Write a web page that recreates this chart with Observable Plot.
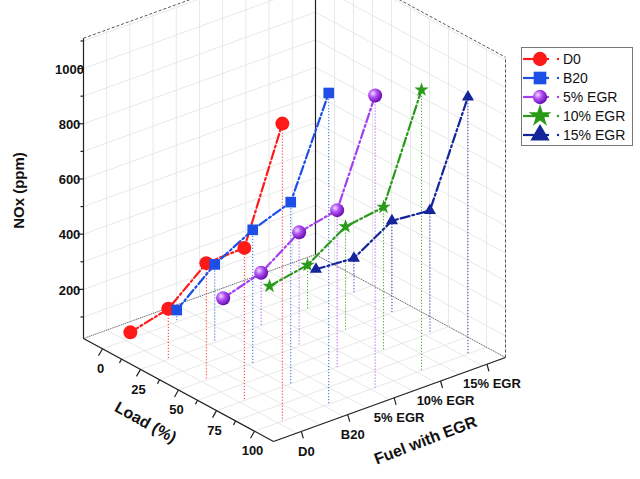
<!DOCTYPE html>
<html><head><meta charset="utf-8">
<script src="https://cdn.jsdelivr.net/npm/d3@7"></script>
<script src="https://cdn.jsdelivr.net/npm/@observablehq/plot@0.6"></script>
<style>body{margin:0;background:#fff;font-family:"Liberation Sans",Arial,sans-serif}#wrap{position:relative;width:640px;height:479px}#legend{position:absolute;left:521px;top:47px}</style>
</head><body><div id="wrap"><div id="chart"></div><svg id="legend" width="113" height="100"></svg></div>
<script>
const loads = [0, 25, 50, 75, 100];
const fuels = ["D0", "B20", "5% EGR", "10% EGR", "15% EGR"];
const D0 = [45, 205, 445, 575, 1100];
const B20 = [65, 305, 505, 680, 1150];
const EGR5 = [47, 214, 435, 590, 1080];
const EGR10 = [30, 181, 395, 540, 1040];
const EGR15 = [30, 145, 355, 467, 953];
const noxTicks = [200, 400, 600, 800, 1000];
const colors = ["#ff1a1a", "#1d4fe6", "#a23ff0", "#2a9a1a", "#14249a"];
const symbols = ["circle", "square", "circle", "star", "triangle"];
const sizes = [7, 6, 7, 4.5, 4.5];
const series = [D0, B20, EGR5, EGR10, EGR15];

const O = [83, 338], A = [190, 103], B = [232, -84], zMin = 22, zMax = 1110, kz = 0.276;
function P(l, f, z) { return [O[0] + l*A[0] + f*B[0], O[1] + l*A[1] + f*B[1] - (z - zMin)*kz]; }
const lf = v => 0.1 + 0.8*v/100;
const ff = i => 0.12 + 0.2*i;

const pts = [];
series.forEach((s, si) => s.forEach((v, li) => {
  const [x, y] = P(lf(loads[li]), ff(si), v);
  const [fx, fy] = P(lf(loads[li]), ff(si), zMin);
  pts.push({s: fuels[si], si, x, y, fx, fy});
}));

const grid = [], edges = [], dashed = [];
function seg(arr, p, q) { arr.push({x1:p[0],y1:p[1],x2:q[0],y2:q[1]}); }
for (let t = 0; t <= 1.0001; t += 0.1) {
  seg(grid, P(t,0,zMin), P(t,1,zMin));
  seg(grid, P(0,t,zMin), P(1,t,zMin));
  seg(grid, P(0,t,zMin), P(0,t,zMax));
  seg(grid, P(t,1,zMin), P(t,1,zMax));
}
for (let z = 100; z <= 1100; z += 100) {
  seg(grid, P(0,0,z), P(0,1,z)); seg(grid, P(0,1,z), P(1,1,z));
}
seg(edges, P(0,0,zMin), P(1,0,zMin));
seg(edges, P(1,0,zMin), P(1,1,zMin));
seg(edges, P(0,0,zMin), P(0,0,zMax));
seg(edges, P(0,1,zMin), P(0,1,zMax));
seg(dashed, P(1,1,zMin), P(1,1,zMax));
seg(dashed, P(0,0,zMax), P(0,1,zMax));
seg(dashed, P(0,1,zMax), P(1,1,zMax));
const backEdge = []; seg(backEdge, P(0,0,zMin), P(0,1,zMin)); seg(backEdge, P(0,1,zMin), P(1,1,zMin));

const ticks = [], labels = [];
loads.forEach(v => { const p = P(lf(v),0,zMin); seg(ticks, p, [p[0]-4, p[1]+7]); labels.push({x:p[0]-2, y:p[1]+20, t:String(v), a:"middle"}); });
for (let v = 12.5; v < 100; v += 25) { const p = P(lf(v),0,zMin); seg(ticks, p, [p[0]-2, p[1]+4]); }
fuels.forEach((v,i) => { const p = P(1,ff(i),zMin); seg(ticks, p, [p[0]+2, p[1]+7]); labels.push({x:p[0]+5, y:p[1]+20, t:v, a:"middle"}); });
noxTicks.forEach(v => { const p = P(0,0,v); seg(ticks, p, [p[0]-6, p[1]]); labels.push({x:p[0]-14, y:p[1]+1, t:String(v), a:"end"}); });
for (let v = 100; v <= 1100; v += 200) { const p = P(0,0,v); seg(ticks, p, [p[0]-3, p[1]]); }

const chart = Plot.plot({
  width: 640, height: 479, margin: 0,
  x: {type: "identity", axis: null}, y: {type: "identity", axis: null},
  style: {fontFamily: "Liberation Sans, Arial, sans-serif"},
  marks: [
    Plot.link(grid, {x1:"x1", y1:"y1", x2:"x2", y2:"y2", stroke:"#e2e2e2", strokeWidth:0.8}),
    Plot.link(backEdge, {x1:"x1", y1:"y1", x2:"x2", y2:"y2", stroke:"#333", strokeWidth:0.8, strokeDasharray:"1,1"}),
    Plot.link(edges, {x1:"x1", y1:"y1", x2:"x2", y2:"y2", stroke:"#222", strokeWidth:1.2}),
    Plot.link(dashed, {x1:"x1", y1:"y1", x2:"x2", y2:"y2", stroke:"#444", strokeWidth:0.9, strokeDasharray:"3,2"}),
    Plot.link(ticks, {x1:"x1", y1:"y1", x2:"x2", y2:"y2", stroke:"#222", strokeWidth:1.2}),
    Plot.link(pts, {x1:"x", y1:"y", x2:"fx", y2:"fy", stroke: d => colors[d.si], strokeWidth:0.9, strokeDasharray:"1.2,1.8"}),
    Plot.line(pts, {x:"x", y:"y", z:"s", stroke: d => colors[d.si], strokeWidth:2.2, strokeDasharray:"9,3,2,3"}),
    ...series.map((s, si) => Plot.dot(pts.filter(p => p.si === si), {x:"x", y:"y", symbol: () => symbols[si], r: sizes[si], fill: si === 2 ? "url(#sph)" : colors[si], stroke: "none"})),
    Plot.text(labels, {x:"x", y:"y", text:"t", textAnchor:"a", fontSize:13, fontWeight:"bold", fill:"#111"}),
    Plot.text(["NOx (ppm)"], {x:19, y:190, rotate:-90, fontSize:15, fontWeight:"bold", fill:"#111"}),
    Plot.text(["Load (%)"], {x:145, y:422, rotate:29, fontSize:16, fontWeight:"bold", fill:"#111"}),
    Plot.text(["Fuel with EGR"], {x:425, y:440, rotate:-21, fontSize:16, fontWeight:"bold", fill:"#111"})
  ]
});
function grad(sel, id) {
  const g = sel.append("radialGradient").attr("id",id).attr("cx","35%").attr("cy","35%").attr("r","65%");
  g.append("stop").attr("offset","0%").attr("stop-color","#f4dcff");
  g.append("stop").attr("offset","45%").attr("stop-color","#b050f5");
  g.append("stop").attr("offset","100%").attr("stop-color","#6a10b0");
}
grad(d3.select(chart).insert("defs", ":first-child"), "sph");
document.getElementById("chart").append(chart);

const lg = d3.select("#legend");
grad(lg.append("defs"), "sph2");
lg.append("rect").attr("x",0.5).attr("y",0.5).attr("width",111).attr("height",98).attr("fill","#fff").attr("stroke","#777");
const symMap = {circle: d3.symbolCircle, square: d3.symbolSquare, star: d3.symbolStar, triangle: d3.symbolTriangle};
fuels.forEach((f, i) => {
  const y = 12 + i*19;
  lg.append("line").attr("x1",2).attr("x2",28).attr("y1",y).attr("y2",y).attr("stroke",colors[i]).attr("stroke-width",2.2);
  lg.append("path").attr("transform",`translate(19,${y})`).attr("d", d3.symbol(symMap[symbols[i]], 160)())
    .attr("fill", i===2 ? "url(#sph2)" : colors[i]);
  lg.append("circle").attr("cx",37).attr("cy",y).attr("r",1.2).attr("fill",colors[i]);
  lg.append("text").attr("x",42).attr("y",y+5).attr("font-size",14).attr("fill","#111").text(f);
});
</script></body></html>
